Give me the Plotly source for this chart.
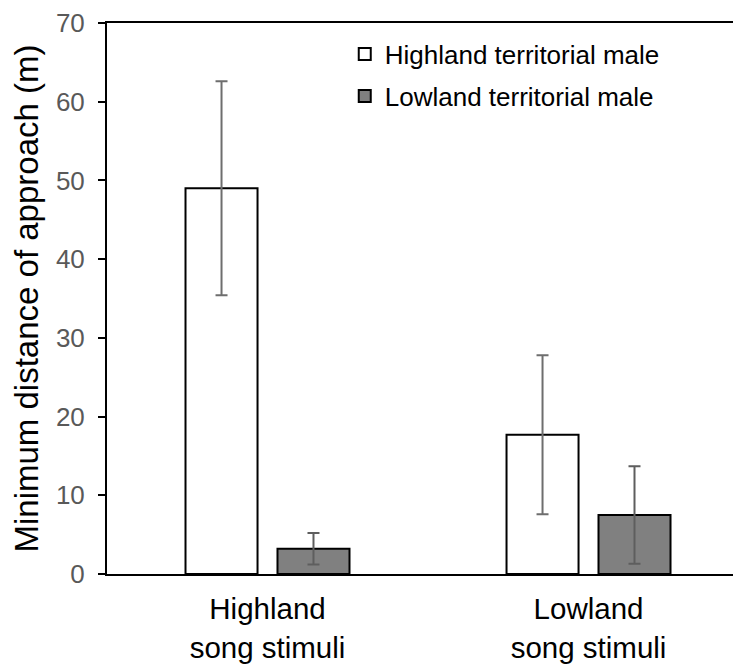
import plotly.graph_objects as go

categories = ["Highland<br>song stimuli", "Lowland<br>song stimuli"]
highland_male = [49.0, 17.7]
highland_err = [13.6, 10.1]
lowland_male = [3.2, 7.5]
lowland_err = [2.0, 6.2]
series_names = ["Highland territorial male", "Lowland territorial male"]
yticks = [0, 10, 20, 30, 40, 50, 60, 70]

FONT = "Liberation Sans, Arial, sans-serif"

fig = go.Figure()
fig.add_trace(go.Bar(
    x=categories, y=highland_male, name=series_names[0],
    marker=dict(color="white", line=dict(color="black", width=2)),
    error_y=dict(type="data", array=highland_err, color="#6e6e6e", thickness=2, width=6),
    legendgroup="a",
))
fig.add_trace(go.Bar(
    x=categories, y=lowland_male, name=series_names[1],
    marker=dict(color="#808080", line=dict(color="black", width=2)),
    error_y=dict(type="data", array=lowland_err, color="#5e5e5e", thickness=2, width=6),
    legendgroup="b",
))

fig.update_layout(
    width=733, height=664,
    margin=dict(l=99, r=0, t=14.5, b=97.5),
    paper_bgcolor="white", plot_bgcolor="white",
    barmode="group", bargap=0.427, bargroupgap=0.217,
    font=dict(family=FONT, color="black"),
    showlegend=True,
    legend=dict(
        x=0.375, y=0.986, xanchor="left", yanchor="top",
        font=dict(size=26, color="black", family=FONT),
        bgcolor="rgba(0,0,0,0)", traceorder="grouped", tracegroupgap=5,
        itemwidth=30,
    ),
    xaxis=dict(
        range=[-0.5, 1.475], showline=True, linecolor="black", linewidth=2,
        mirror=True, ticks="", showgrid=False, ticklabelstandoff=8,
        tickfont=dict(size=29.5, color="black", family=FONT),
    ),
    yaxis=dict(
        range=[0, 70], tickvals=yticks, showline=True, linecolor="black", linewidth=2,
        ticks="outside", ticklen=7, tickcolor="black", tickwidth=1.5,
        showgrid=False, zeroline=False, ticklabelstandoff=8,
        tickfont=dict(size=26, color="#595959", family=FONT),
        title=dict(text="Minimum distance of approach (m)", font=dict(size=33, color="black", family=FONT), standoff=10),
    ),
)

fig.write_html("out.html")
